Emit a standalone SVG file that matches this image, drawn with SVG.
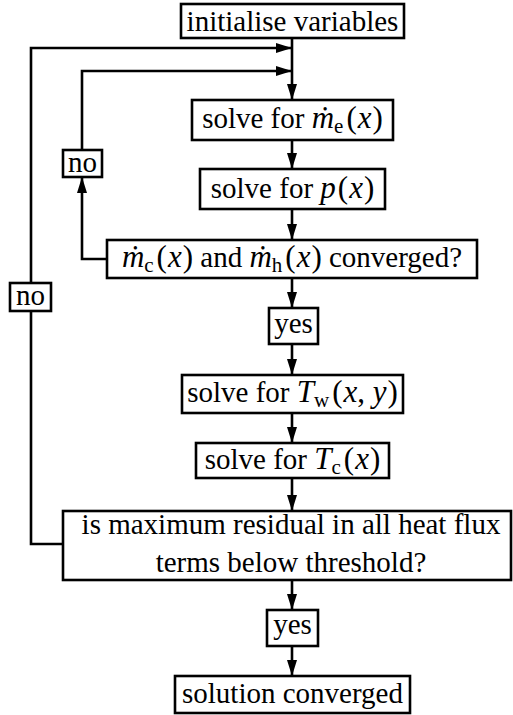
<svg xmlns="http://www.w3.org/2000/svg" width="513" height="715" viewBox="0 0 513 715">
<style>
.box{fill:#fff;stroke:#000;stroke-width:2.6}
.t{font-size:29px;fill:#000;text-anchor:middle}
.i{font-style:italic;font-size:31px}
.p{font-size:31px}
.s{font-size:21px}
.c{fill:none;stroke:#000;stroke-width:2.6}
</style>
<defs>
<marker id="ah" viewBox="0 0 16 10" refX="16" refY="5" markerWidth="16" markerHeight="10" markerUnits="userSpaceOnUse" orient="auto">
<path d="M0,0 L16,5 L0,10 z" fill="#000"/>
</marker>
</defs>
<rect width="513" height="715" fill="#fff"/>
<g id="connectors">
<line class="c" x1="292" y1="38" x2="292" y2="100" marker-end="url(#ah)"/>
<polyline class="c" points="63,544 31,544 31,48 292,48" marker-end="url(#ah)"/>
<polyline class="c" points="82,150 82,71 292,71" marker-end="url(#ah)"/>
<polyline class="c" points="107,259 82,259 82,177" marker-end="url(#ah)"/>
<line class="c" x1="292" y1="140" x2="292" y2="169" marker-end="url(#ah)"/>
<line class="c" x1="292" y1="209" x2="292" y2="240" marker-end="url(#ah)"/>
<line class="c" x1="292" y1="278" x2="292" y2="308" marker-end="url(#ah)"/>
<line class="c" x1="292" y1="344" x2="292" y2="375" marker-end="url(#ah)"/>
<line class="c" x1="292" y1="413" x2="292" y2="443" marker-end="url(#ah)"/>
<line class="c" x1="292" y1="478" x2="292" y2="511" marker-end="url(#ah)"/>
<line class="c" x1="292" y1="580" x2="292" y2="610" marker-end="url(#ah)"/>
<line class="c" x1="292" y1="646" x2="292" y2="676" marker-end="url(#ah)"/>
</g>
<g font-family="'Liberation Serif', 'DejaVu Serif', serif">
<g id="n_init"><rect class="box" x="181" y="4" width="223" height="34"/><text class="t" x="292.5" y="31">initialise variables</text></g>
<g id="n_me"><rect class="box" x="192" y="100" width="201" height="40"/><text class="t" x="292.5" y="128">solve for <tspan class="i">ṁ</tspan><tspan class="s" dy="5">e</tspan><tspan class="p" dy="-5" dx="3">(</tspan><tspan class="i" dx="1">x</tspan><tspan class="p" dx="1">)</tspan></text></g>
<g id="n_no1"><rect class="box" x="63" y="150" width="39" height="27"/><text class="t" x="82.5" y="172">no</text></g>
<g id="n_p"><rect class="box" x="200" y="169" width="185" height="40"/><text class="t" x="292.5" y="198">solve for <tspan class="i">p</tspan><tspan class="p" dx="2">(</tspan><tspan class="i" dx="1">x</tspan><tspan class="p" dx="1">)</tspan></text></g>
<g id="n_conv"><rect class="box" x="107" y="240" width="370" height="38"/><text class="t" x="292" y="267"><tspan class="i">ṁ</tspan><tspan class="s" dy="5">c</tspan><tspan class="p" dy="-5" dx="3">(</tspan><tspan class="i" dx="1">x</tspan><tspan class="p" dx="1">)</tspan> and <tspan class="i">ṁ</tspan><tspan class="s" dy="5">h</tspan><tspan class="p" dy="-5" dx="3">(</tspan><tspan class="i" dx="1">x</tspan><tspan class="p" dx="1">)</tspan> converged?</text></g>
<g id="n_no2"><rect class="box" x="10" y="283" width="41" height="28"/><text class="t" x="30.5" y="305">no</text></g>
<g id="n_yes1"><rect class="box" x="269" y="308" width="49" height="36"/><text class="t" x="293.5" y="333">yes</text></g>
<g id="n_tw"><rect class="box" x="182" y="375" width="221" height="38"/><text class="t" x="292.5" y="402">solve for <tspan class="i">T</tspan><tspan class="s" dy="5">w</tspan><tspan class="p" dy="-5" dx="3">(</tspan><tspan class="i" dx="1">x</tspan><tspan class="p">, </tspan><tspan class="i">y</tspan><tspan class="p" dx="1">)</tspan></text></g>
<g id="n_tc"><rect class="box" x="196" y="443" width="193" height="35"/><text class="t" x="292.5" y="469">solve for <tspan class="i">T</tspan><tspan class="s" dy="5">c</tspan><tspan class="p" dy="-5" dx="3">(</tspan><tspan class="i" dx="1">x</tspan><tspan class="p" dx="1">)</tspan></text></g>
<g id="n_resid"><rect class="box" x="63" y="511" width="448" height="69"/><text class="t" x="291" y="534">is maximum residual in all heat flux</text><text class="t" x="291" y="572">terms below threshold?</text></g>
<g id="n_yes2"><rect class="box" x="267" y="610" width="51" height="36"/><text class="t" x="292.5" y="634">yes</text></g>
<g id="n_sol"><rect class="box" x="175" y="676" width="235" height="37"/><text class="t" x="292.5" y="703">solution converged</text></g>
</g>
</svg>
